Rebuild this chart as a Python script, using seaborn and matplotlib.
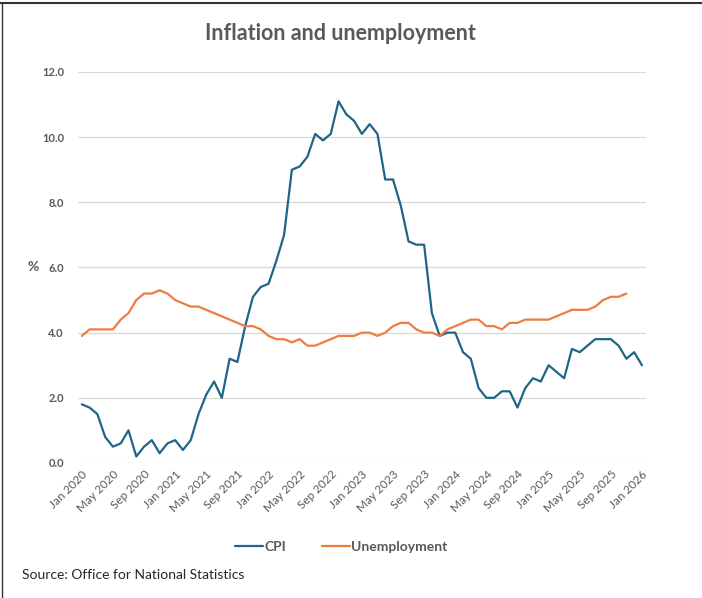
"""Grafico de inflacao (CPI) e desemprego no Reino Unido, 2020-2026."""

import matplotlib.pyplot as plt
import numpy as np
import pandas as pd
import seaborn as sns
from matplotlib.lines import Line2D

# CPI mensal, Jan 2020 .. Jan 2026
cpi = [
    1.8, 1.7, 1.5, 0.8, 0.5, 0.6, 1.0, 0.2, 0.5, 0.7, 0.3, 0.6,
    0.7, 0.4, 0.7, 1.5, 2.1, 2.5, 2.0, 3.2, 3.1, 4.2, 5.1, 5.4,
    5.5, 6.2, 7.0, 9.0, 9.1, 9.4, 10.1, 9.9, 10.1, 11.1, 10.7, 10.5,
    10.1, 10.4, 10.1, 8.7, 8.7, 7.9, 6.8, 6.7, 6.7, 4.6, 3.9, 4.0,
    4.0, 3.4, 3.2, 2.3, 2.0, 2.0, 2.2, 2.2, 1.7, 2.3, 2.6, 2.5,
    3.0, 2.8, 2.6, 3.5, 3.4, 3.6, 3.8, 3.8, 3.8, 3.6, 3.2, 3.4,
    3.0,
]

# Desemprego mensal, Jan 2020 .. Nov 2025
unemployment = [
    3.9, 4.1, 4.1, 4.1, 4.1, 4.4, 4.6, 5.0, 5.2, 5.2, 5.3, 5.2,
    5.0, 4.9, 4.8, 4.8, 4.7, 4.6, 4.5, 4.4, 4.3, 4.2, 4.2, 4.1,
    3.9, 3.8, 3.8, 3.7, 3.8, 3.6, 3.6, 3.7, 3.8, 3.9, 3.9, 3.9,
    4.0, 4.0, 3.9, 4.0, 4.2, 4.3, 4.3, 4.1, 4.0, 4.0, 3.9, 4.1,
    4.2, 4.3, 4.4, 4.4, 4.2, 4.2, 4.1, 4.3, 4.3, 4.4, 4.4, 4.4,
    4.4, 4.5, 4.6, 4.7, 4.7, 4.7, 4.8, 5.0, 5.1, 5.1, 5.2,
]

months = pd.date_range("2020-01-01", periods=len(cpi), freq="MS")
y_ticks = [0, 2, 4, 6, 8, 10, 12]

COR_CPI = "#1F6587"
COR_UNEMP = "#EE7D3E"
COR_TEXTO = "#595959"

sns.set_theme(style="white")
plt.rcParams["font.family"] = ["Lato", "DejaVu Sans"]

fig = plt.figure(figsize=(7.02, 5.98), dpi=100)
ax = fig.add_axes([0.111, 0.2258, 0.809, 0.6538])

df_cpi = pd.DataFrame({"idx": np.arange(len(cpi)), "valor": cpi})
df_un = pd.DataFrame({"idx": np.arange(len(unemployment)), "valor": unemployment})

sns.lineplot(data=df_cpi, x="idx", y="valor", color=COR_CPI, linewidth=1.6, ax=ax, clip_on=False)
sns.lineplot(data=df_un, x="idx", y="valor", color=COR_UNEMP, linewidth=1.6, ax=ax, clip_on=False)

ax.set_xlim(-0.5, len(cpi) - 0.5)
ax.set_ylim(0, 12)
ax.set_yticks(y_ticks)
ax.set_yticklabels([f"{v:.1f}" for v in y_ticks], fontsize=8, fontweight="bold", color=COR_TEXTO)
ax.yaxis.grid(True, color="#D9D9D9", linewidth=0.9)
ax.set_axisbelow(True)

pos = np.arange(0, len(cpi), 4)
ax.set_xticks(pos)
ax.set_xticklabels(
    [months[i].strftime("%b %Y") for i in pos],
    rotation=45, ha="right", rotation_mode="anchor",
    fontsize=8.5, color=COR_TEXTO,
)
ax.tick_params(axis="both", length=0)
ax.tick_params(axis="y", pad=10)
ax.tick_params(axis="x", pad=4)
ax.set_xlabel("")
ax.set_ylabel("")
for s in ax.spines.values():
    s.set_visible(False)

fig.text(0.047, (598 - 267) / 598, "%", fontsize=10, fontweight="bold",
         color=COR_TEXTO, ha="center", va="center")
fig.suptitle("Inflation and unemployment", x=0.485, y=(598 - 33) / 598,
             fontsize=15.5, fontweight="bold", color=COR_TEXTO, va="center")

handles = [
    Line2D([], [], color=COR_CPI, linewidth=1.6),
    Line2D([], [], color=COR_UNEMP, linewidth=1.6),
]
leg = fig.legend(handles, ["CPI", "Unemployment"], loc="center",
                 bbox_to_anchor=(0.486, (598 - 547) / 598), ncol=2, frameon=False,
                 handlelength=2.0, handletextpad=0.1, columnspacing=2.6,
                 prop={"size": 10, "weight": "bold"})
for t in leg.get_texts():
    t.set_color(COR_TEXTO)

fig.text(0.031, (598 - 575) / 598, "Source: Office for National Statistics",
         fontsize=10, color="#262626", ha="left", va="center")

# moldura fina no topo e na esquerda
fig.add_artist(Line2D([0, 1], [0.995, 0.995], color="#333333", linewidth=1.5))
fig.add_artist(Line2D([0.003, 0.003], [0, 0.995], color="#333333", linewidth=1.0))

fig.savefig("out.png", dpi=100)
plt.close(fig)
